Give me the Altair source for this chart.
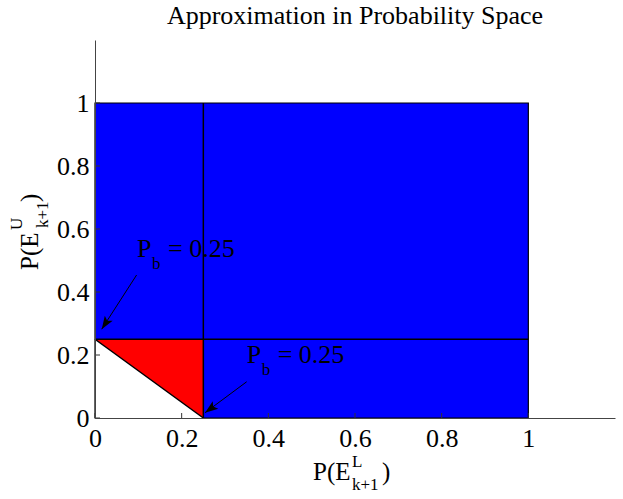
import math
import altair as alt
import pandas as pd

# ---------------- data ----------------
pb = 0.25
x_domain = [0, 1.2]
y_domain = [0, 1.2]
x_ticks = [0, 0.2, 0.4, 0.6, 0.8, 1]
y_ticks = [0, 0.2, 0.4, 0.6, 0.8, 1]

# blue square [0,1] x [0,1]
box_x, box_x2 = [0], [1]
box_y, box_y2 = [0], [1]

# triangles as areas (x, lower edge, upper edge)
tri_x = [0, pb]
red_lo = [pb, 0]
red_hi = [pb, pb]
white_lo = [0, 0]
white_hi = [pb, 0]

# black line segments
seg_x = [pb, 0, 0]
seg_y = [0, pb, pb]
seg_x2 = [pb, 1, pb]
seg_y2 = [1, pb, 0]

# annotations "P_b = 0.25"
ann_text = ["= 0.25", "= 0.25"]
ann_x = [0.097, 0.350]
ann_y = [0.512, 0.174]
arrow_x0 = [0.096, 0.350]
arrow_y0 = [0.454, 0.115]
arrow_x1 = [0.0155, 0.254]
arrow_y1 = [0.282, 0.017]

title_text = "Approximation in Probability Space"

# ---------------- layout ----------------
W, H = 520, 378
FONT = "Liberation Serif"
sx = W / (x_domain[1] - x_domain[0])
sy = H / (y_domain[1] - y_domain[0])

xs = alt.Scale(domain=x_domain, nice=False, zero=False)
ys = alt.Scale(domain=y_domain, nice=False, zero=False)
xaxis = alt.Axis(values=x_ticks, tickSize=0, grid=False, title="", format="~g",
                 labelFont=FONT, labelFontSize=26, labelColor="black",
                 labelPadding=7, labelFlush=False, domainColor="#444",
                 domainWidth=1, zindex=1, labelOverlap=False)
yaxis = alt.Axis(values=y_ticks, tickSize=0, grid=False, title="", format="~g",
                 labelFont=FONT, labelFontSize=26, labelColor="black",
                 labelPadding=6, domainColor="#444", domainWidth=1, zindex=1,
                 labelOverlap=False)


def X(f):
    return alt.X(f, type="quantitative", scale=xs, axis=xaxis)


def Y(f):
    return alt.Y(f, type="quantitative", scale=ys, axis=yaxis)


box_df = pd.DataFrame({"x": box_x, "x2": box_x2, "y": box_y, "y2": box_y2})
box = alt.Chart(box_df).mark_rect(color="#0000FF", stroke="black", strokeWidth=1.2).encode(
    x=X("x"), x2="x2", y=Y("y"), y2="y2")

white_df = pd.DataFrame({"x": tri_x, "lo": white_lo, "hi": white_hi})
white = alt.Chart(white_df).mark_area(color="white", opacity=1).encode(
    x=X("x"), y=Y("hi"), y2="lo")

red_df = pd.DataFrame({"x": tri_x, "lo": red_lo, "hi": red_hi})
red = alt.Chart(red_df).mark_area(color="#FF0000", opacity=1).encode(
    x=X("x"), y=Y("hi"), y2="lo")

seg_df = pd.DataFrame({"x": seg_x, "y": seg_y, "x2": seg_x2, "y2": seg_y2})
segs = alt.Chart(seg_df).mark_rule(color="black", strokeWidth=1.5).encode(
    x=X("x"), y=Y("y"), x2="x2", y2="y2")

arr_df = pd.DataFrame({"x0": arrow_x0, "y0": arrow_y0, "x1": arrow_x1, "y1": arrow_y1})
arr_df["ang"] = [
    math.degrees(math.atan2((a1 - a0) * sx, (b1 - b0) * sy)) % 360
    for a0, b0, a1, b1 in zip(arrow_x0, arrow_y0, arrow_x1, arrow_y1)
]
shafts = alt.Chart(arr_df).mark_rule(color="black", strokeWidth=1).encode(
    x=X("x0"), y=Y("y0"), x2="x1", y2="y1")
heads = alt.Chart(arr_df).mark_point(
    shape="M0,0L-0.36,1L0,0.78L0.36,1Z", filled=True, color="black",
    opacity=1, size=676, strokeWidth=0).encode(
    x=X("x1"), y=Y("y1"), angle=alt.Angle("ang:Q", scale=None))

ann_df = pd.DataFrame({"x": ann_x, "y": ann_y, "t": ann_text})
ann_P = alt.Chart(ann_df).mark_text(text="P", align="left", baseline="alphabetic",
                                    font=FONT, fontSize=26, color="black").encode(
    x=X("x"), y=Y("y"))
ann_b = alt.Chart(ann_df).mark_text(text="b", align="left", baseline="alphabetic",
                                    font=FONT, fontSize=17, color="black", dx=15, dy=12).encode(
    x=X("x"), y=Y("y"))
ann_eq = alt.Chart(ann_df).mark_text(align="left", baseline="alphabetic",
                                     font=FONT, fontSize=26, color="black", dx=31).encode(
    x=X("x"), y=Y("y"), text="t:N")

xt_df = pd.DataFrame({"v": x_ticks})
xticks = alt.Chart(xt_df).mark_rule(color="#333", strokeWidth=1).encode(
    x=X("v"), y=alt.value(H), y2=alt.value(H - 5))
yt_df = pd.DataFrame({"v": y_ticks})
yticks = alt.Chart(yt_df).mark_rule(color="#333", strokeWidth=1).encode(
    y=Y("v"), x=alt.value(0), x2=alt.value(5))


def label(txt, px, py, size, angle=0, align="left"):
    kw = dict(align=align, baseline="alphabetic", font=FONT, fontSize=size, color="black")
    if angle:
        kw["angle"] = angle
    return alt.Chart(pd.DataFrame({"t": [txt]})).mark_text(**kw).encode(
        text="t:N", x=alt.value(px), y=alt.value(py))


texts = [
    label(title_text, W / 2, -16, 26, align="center"),
    # x axis title P(E^L_{k+1})
    label("P(E", 218, 440, 25),
    label("L", 257, 427, 17),
    label("k+1", 257, 450, 17),
    label(")", 287, 440, 25),
    # y axis title P(E^U_{k+1})
    label("P(E", -57, 230, 25, angle=270),
    label("U", -73, 190, 17, angle=270),
    label("k+1", -47, 188, 17, angle=270),
    label(")", -57, 162, 25, angle=270),
]

chart = alt.layer(box, white, red, segs, shafts, heads, ann_P, ann_b, ann_eq,
                  xticks, yticks, *texts).properties(
    width=W, height=H,
    autosize=alt.AutoSizeParams(type="none"),
    padding={"left": 95, "top": 40, "right": 8, "bottom": 81},
).configure_view(strokeWidth=0)

chart.save("out.html", embed_options={"renderer": "svg", "actions": False})
